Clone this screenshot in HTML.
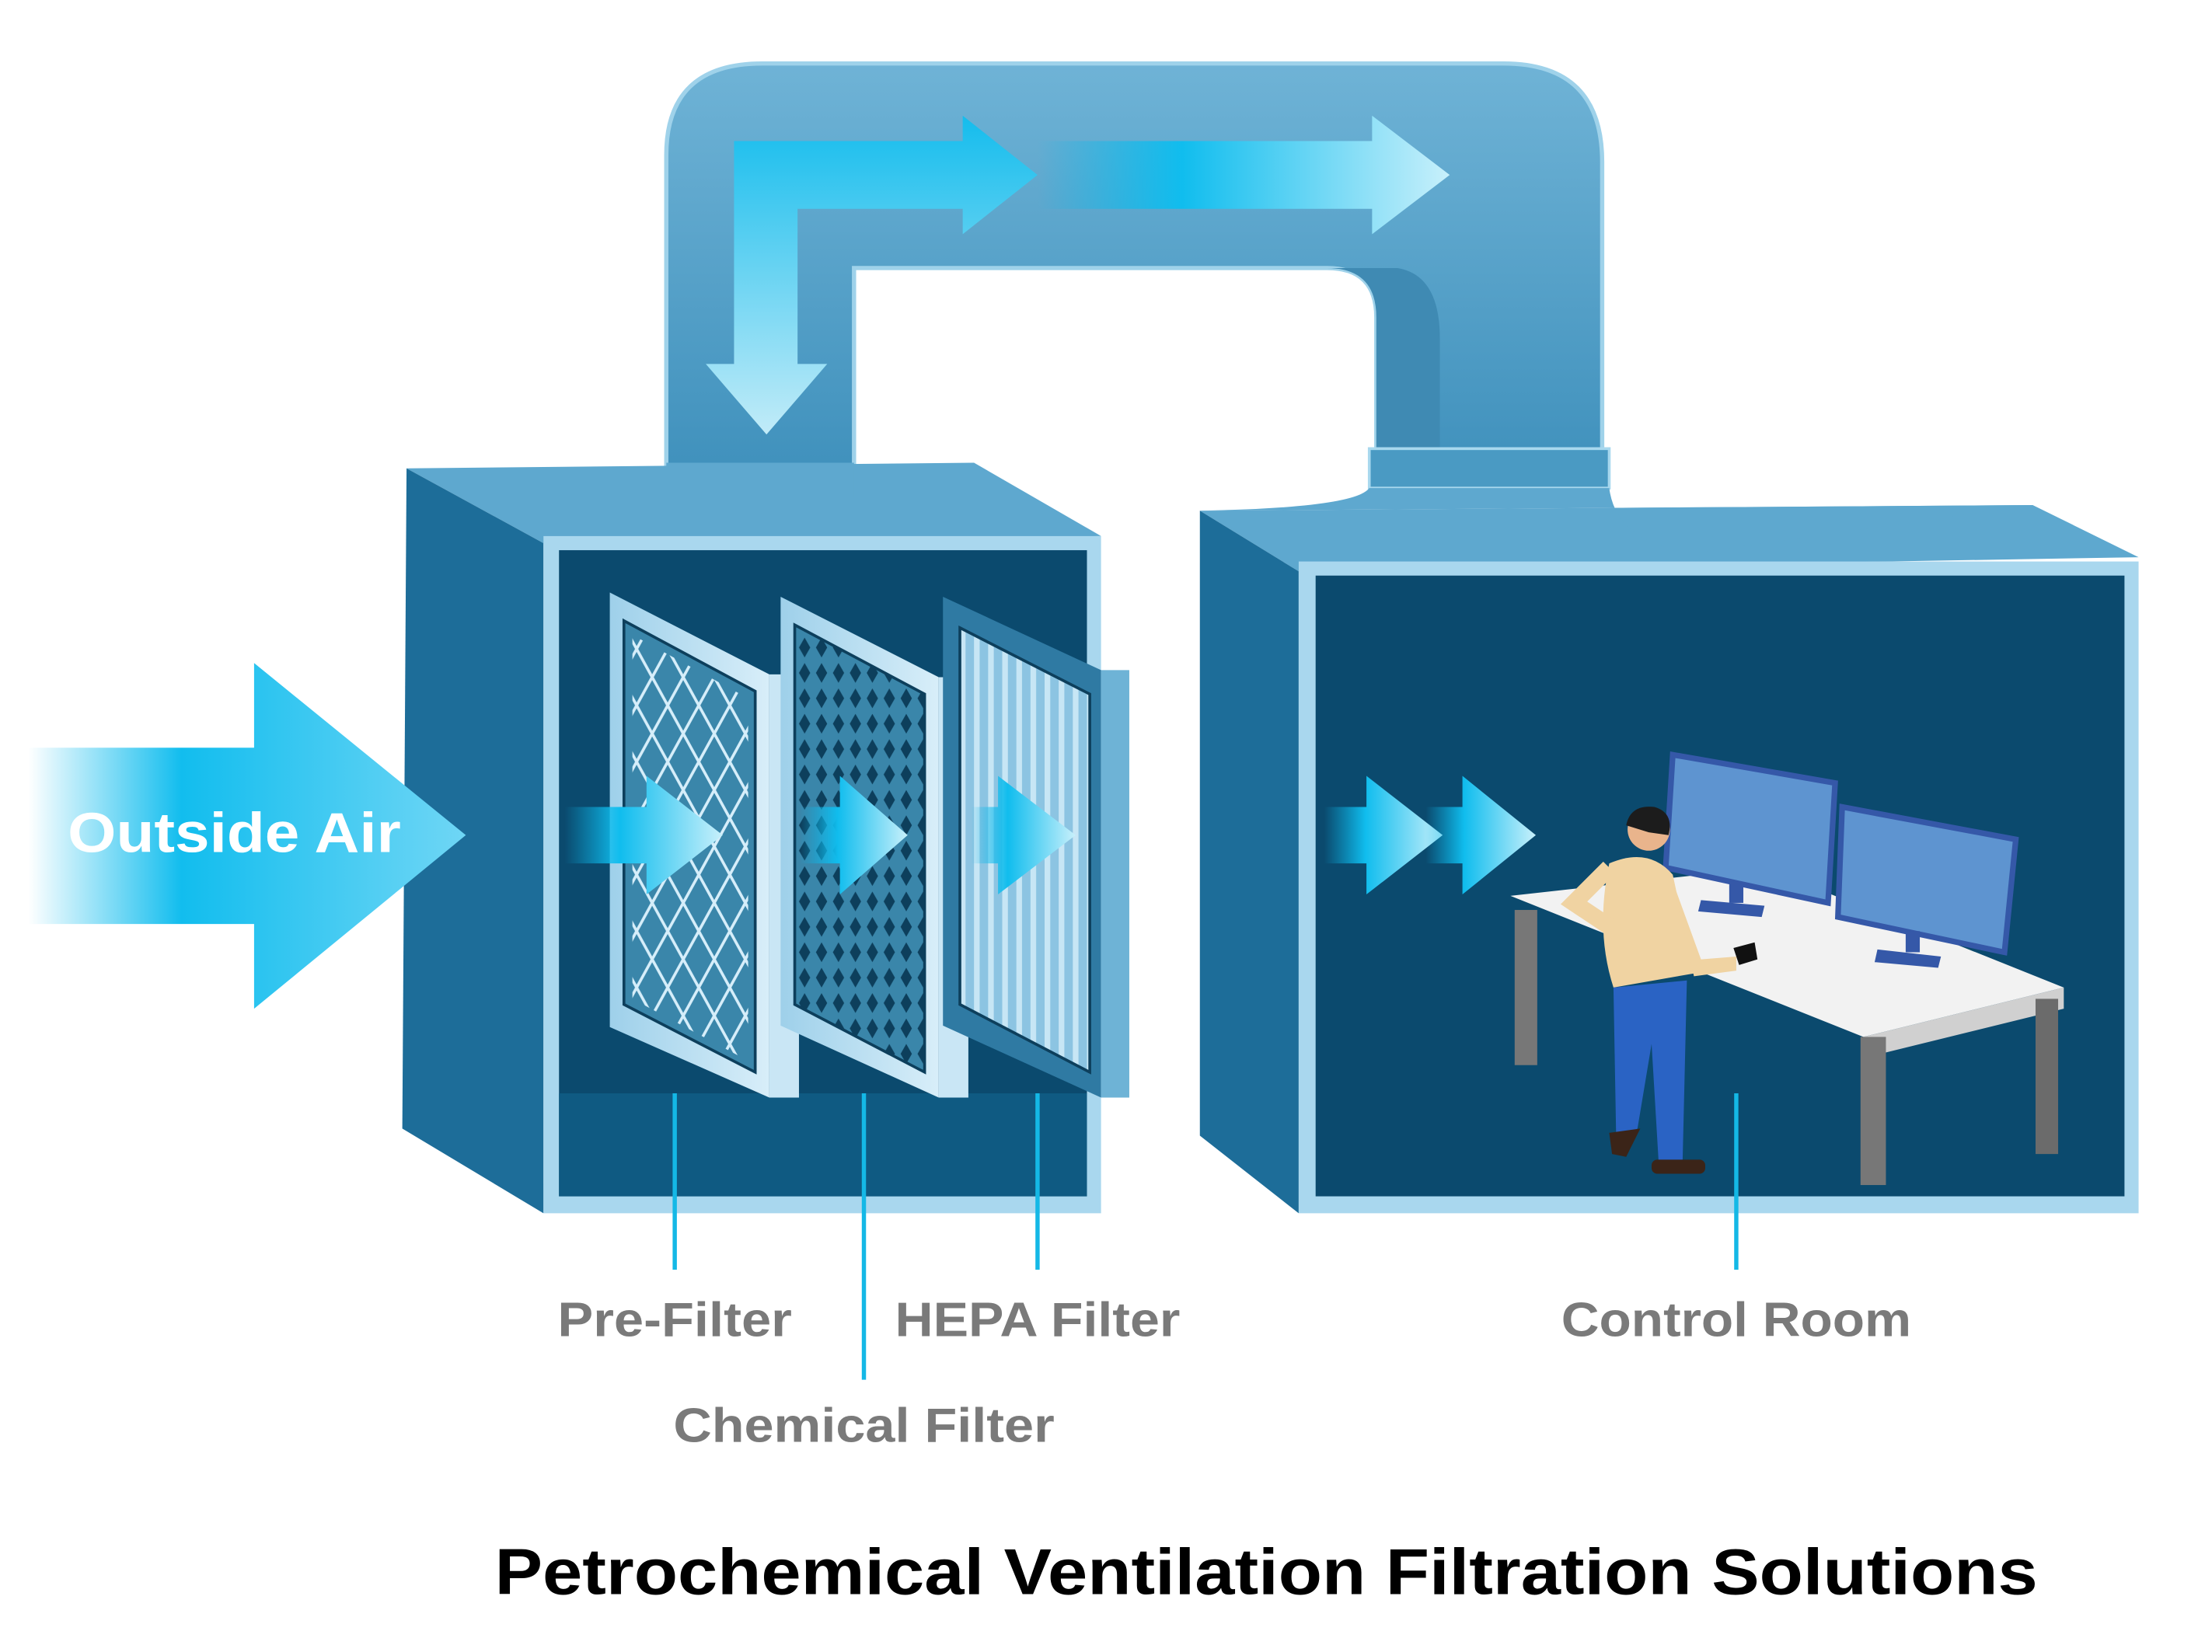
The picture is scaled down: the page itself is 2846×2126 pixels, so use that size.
<!DOCTYPE html>
<html><head><meta charset="utf-8"><style>
html,body{margin:0;padding:0;background:#fff}
svg{display:block}
</style></head><body>
<svg width="2846" height="2126" viewBox="0 0 1567 1171" preserveAspectRatio="none" xmlns="http://www.w3.org/2000/svg">
<defs>
<linearGradient id="duct" x1="0" y1="0" x2="0" y2="1"><stop offset="0" stop-color="#6fb3d6"/><stop offset="1" stop-color="#3d8fbb"/></linearGradient>
<linearGradient id="arrH" x1="0" y1="0" x2="1" y2="0"><stop offset="0" stop-color="#0ab8ea" stop-opacity="0"/><stop offset="0.35" stop-color="#10bdee"/><stop offset="1" stop-color="#c8f0fb"/></linearGradient>
<linearGradient id="arrBig" x1="0" y1="0" x2="1" y2="0"><stop offset="0" stop-color="#fff"/><stop offset="0.35" stop-color="#12bdee"/><stop offset="1" stop-color="#6fd6f5"/></linearGradient>
<linearGradient id="arrV" x1="0" y1="0" x2="0" y2="1"><stop offset="0" stop-color="#10bdee"/><stop offset="1" stop-color="#c8f0fb"/></linearGradient>
<linearGradient id="frame" x1="0" y1="0" x2="1" y2="0"><stop offset="0" stop-color="#9ed0ea"/><stop offset="1" stop-color="#d8eef9"/></linearGradient>
<pattern id="mesh1" width="22" height="40" patternUnits="userSpaceOnUse"><path d="M0 0 L11 20 L0 40 M22 0 L11 20 L22 40" stroke="#d6eefa" stroke-width="2" fill="none"/></pattern>
<pattern id="mesh2" width="12" height="18" patternUnits="userSpaceOnUse"><rect width="12" height="18" fill="#3a86aa"/><path d="M6 2 L10 9 L6 16 L2 9Z" fill="#0d3f5c"/></pattern>
<pattern id="pleat" width="10" height="10" patternUnits="userSpaceOnUse"><rect width="10" height="10" fill="#8cc4e2"/><rect x="0" width="4" height="10" fill="#c7e6f5"/></pattern>
</defs>

<!-- duct -->
<path d="M472 350 L472 110 Q472 45 540 45 L1065 45 Q1135 45 1135 115 L1135 330 L975 330 L975 225 Q975 190 940 190 L605 190 L605 350 Z" fill="url(#duct)" stroke="#9fd2ea" stroke-width="3"/>
<path d="M975 225 Q975 190 940 190 L990 190 Q1020 195 1020 240 L1020 330 L975 330Z" fill="#3f8ab3"/>
<rect x="970" y="318" width="170" height="28" fill="#4a9ac3" stroke="#a8d8ee" stroke-width="2"/>

<!-- duct arrows -->
<path d="M520 100 L682 100 L682 82 L735 124 L682 166 L682 148 L565 148 L565 258 L586 258 L543 308 L500 258 L520 258 Z" fill="url(#arrV)" opacity="0.95"/>
<path d="M735 100 L972 100 L972 82 L1027 124 L972 166 L972 148 L735 148Z" fill="url(#arrH)"/>

<!-- left box -->
<polygon points="288,332 690,328 780,380 385,385" fill="#5ea8cf"/>
<polygon points="288,332 385,385 385,860 285,800" fill="#1d6d99"/>
<rect x="385" y="380" width="395" height="480" fill="#a9d7ee"/>
<rect x="396" y="390" width="374" height="458" fill="#0b4a6e"/>
<rect x="396" y="775" width="374" height="73" fill="#0f5a82"/>
<polygon points="472,328 605,328 605,352 472,352" fill="#5ea8cf"/>

<!-- filters -->
<polygon points="432,420 545,478 545,778 432,728" fill="url(#frame)"/>
<polygon points="545,478 566,478 566,778 545,778" fill="#c9e6f5"/>
<polygon points="442,440 535,490 535,760 442,712" fill="#3a86aa" stroke="#0d3f5c" stroke-width="2"/>
<polygon points="448,450 530,495 530,752 448,708" fill="url(#mesh1)"/>
<polygon points="553,423 665,480 665,778 553,727" fill="url(#frame)"/>
<polygon points="665,480 686,480 686,778 665,778" fill="#c9e6f5"/>
<polygon points="563,443 655,492 655,760 563,712" fill="url(#mesh2)" stroke="#0d3f5c" stroke-width="2"/>
<polygon points="668,423 780,475 780,778 668,727" fill="#2f7aa3"/>
<polygon points="780,475 800,475 800,778 780,778" fill="#6eb3d6"/>
<polygon points="680,445 772,492 772,760 680,712" fill="url(#pleat)" stroke="#0d3f5c" stroke-width="2"/>

<!-- small arrows left -->
<path d="M400 572 L458 572 L458 550 L512 592 L458 634 L458 612 L400 612Z" fill="url(#arrH)"/>
<path d="M567 572 L595 572 L595 550 L643 592 L595 634 L595 612 L567 612Z" fill="url(#arrH)"/>
<path d="M688 572 L707 572 L707 550 L762 592 L707 634 L707 612 L688 612Z" fill="url(#arrH)"/>

<!-- right box -->
<polygon points="850,362 1440,358 1515,395 920,405" fill="#5ea8cf"/>
<polygon points="850,362 920,405 920,860 850,805" fill="#1d6d99"/>
<rect x="920" y="398" width="595" height="462" fill="#a9d7ee"/>
<rect x="932" y="408" width="573" height="440" fill="#0b4a6e"/>
<path d="M970 346 L1140 346 Q1145 385 1200 392 L1440 358 L850 362 Q960 360 970 346Z" fill="#5ea8cf"/>
<path d="M938 572 L968 572 L968 550 L1022 592 L968 634 L968 612 L938 612Z" fill="url(#arrH)"/>
<path d="M1010 572 L1036 572 L1036 550 L1088 592 L1036 634 L1036 612 L1010 612Z" fill="url(#arrH)"/>

<!-- desk -->
<polygon points="1070,635 1250,615 1462,700 1320,735" fill="#f2f2f2"/>
<polygon points="1320,735 1462,700 1462,715 1320,750" fill="#d0d0d0"/>
<rect x="1073" y="645" width="16" height="110" fill="#777"/>
<rect x="1318" y="735" width="18" height="105" fill="#777"/>
<rect x="1442" y="708" width="16" height="110" fill="#6b6b6b"/>
<polygon points="1185,535 1300,555 1295,640 1180,615" fill="#5e94d0" stroke="#3558a8" stroke-width="4"/>
<rect x="1225" y="625" width="10" height="15" fill="#3558a8"/><polygon points="1205,638 1250,642 1248,650 1203,646" fill="#3558a8"/>
<polygon points="1305,572 1428,595 1420,675 1302,650" fill="#5e94d0" stroke="#3558a8" stroke-width="4"/>
<rect x="1350" y="660" width="10" height="15" fill="#3558a8"/><polygon points="1330,673 1375,678 1373,686 1328,682" fill="#3558a8"/>
<circle cx="1168" cy="588" r="15" fill="#e9b48c"/>
<path d="M1152 585 Q1155 570 1172 572 Q1186 576 1182 592 L1168 590Z" fill="#1c1c1c"/>
<path d="M1140 612 Q1168 600 1185 620 L1200 690 L1143 700 Q1130 660 1140 612Z" fill="#f0d3a2"/>
<path d="M1143 700 L1195 695 L1192 822 L1175 824 L1170 740 L1160 800 L1145 812 Z" fill="#2a63c4"/>
<rect x="1170" y="822" width="38" height="10" rx="4" fill="#3b2418"/>
<path d="M1140 803 L1162 800 L1152 820 L1142 818Z" fill="#3b2418"/>
<path d="M1185 625 L1205 680 L1230 678 L1230 688 L1200 692Z" fill="#f0d3a2"/>
<path d="M1228 672 L1243 668 L1245 680 L1232 684Z" fill="#111"/>
<path d="M1140 615 L1115 640 L1145 660" fill="none" stroke="#f0d3a2" stroke-width="12"/>

<!-- big arrow -->
<path d="M20 530 L180 530 L180 470 L330 592 L180 715 L180 655 L20 655Z" fill="url(#arrBig)"/>
<text x="48" y="604" font-family="Liberation Sans, sans-serif" font-size="40" font-weight="bold" fill="#fff" textLength="236" lengthAdjust="spacingAndGlyphs">Outside Air</text>

<g stroke="#14b8e6" stroke-width="3">
<line x1="478" y1="775" x2="478" y2="900"/>
<line x1="612" y1="775" x2="612" y2="978"/>
<line x1="735" y1="775" x2="735" y2="900"/>
<line x1="1230" y1="775" x2="1230" y2="900"/>
</g>
<g font-family="Liberation Sans, sans-serif" font-size="34" font-weight="bold" fill="#7a7a7a" text-anchor="middle">
<text x="478" y="947" textLength="166" lengthAdjust="spacingAndGlyphs">Pre-Filter</text>
<text x="735" y="947" textLength="202" lengthAdjust="spacingAndGlyphs">HEPA Filter</text>
<text x="612" y="1022" textLength="270" lengthAdjust="spacingAndGlyphs">Chemical Filter</text>
<text x="1230" y="947" textLength="248" lengthAdjust="spacingAndGlyphs">Control Room</text>
</g>
<text x="897" y="1130" font-family="Liberation Sans, sans-serif" font-size="46" font-weight="bold" fill="#000" text-anchor="middle" textLength="1093" lengthAdjust="spacingAndGlyphs">Petrochemical Ventilation Filtration Solutions</text>
</svg>
</body></html>
